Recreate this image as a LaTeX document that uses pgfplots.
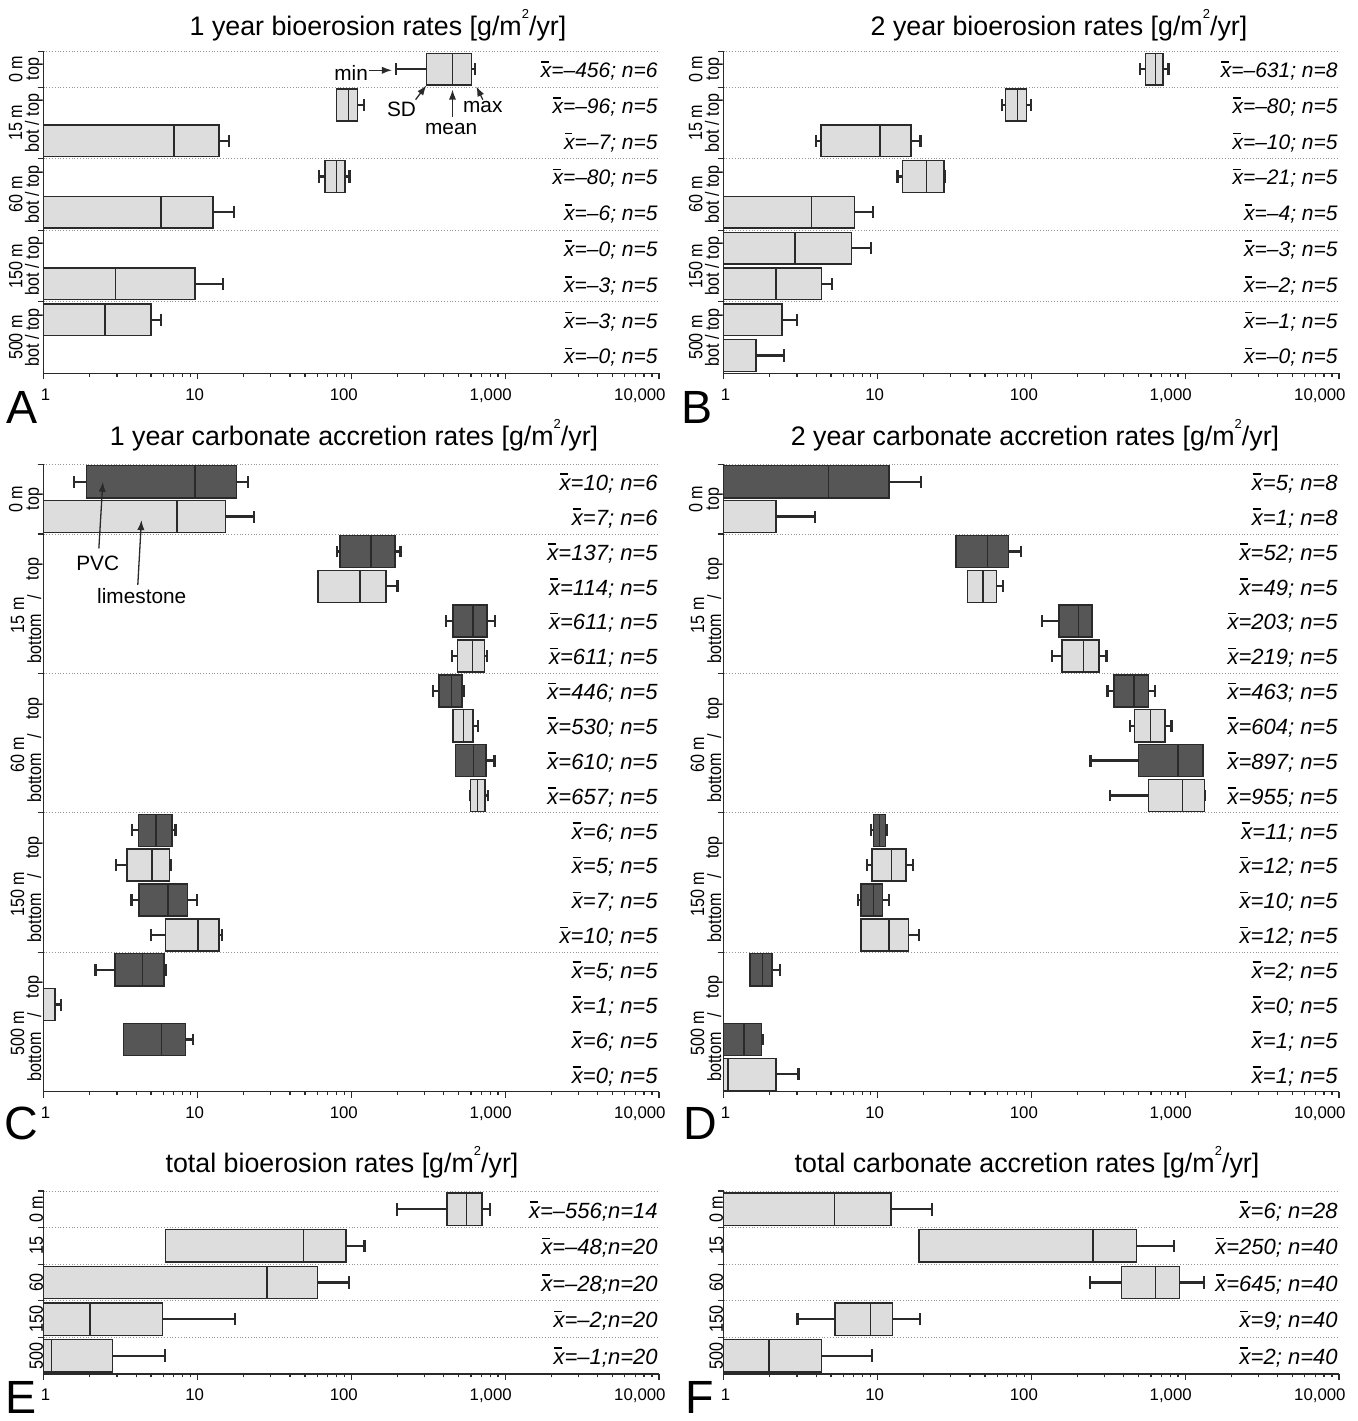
\documentclass[border=0pt]{standalone}
\usepackage{fontspec}
\setmainfont{Liberation Sans}
\newfontfamily\condfont{Liberation Sans}[FakeStretch=0.84]
\usepackage{pgfplots}
\pgfplotsset{compat=1.18}
\usetikzlibrary{arrows.meta}
\definecolor{lightbox}{RGB}{221,221,221}
\definecolor{darkbox}{RGB}{86,86,86}
\definecolor{edgec}{RGB}{42,42,42}
\definecolor{gridc}{RGB}{150,150,150}
\newcommand\xb{\rlap{\kern0.03em\raisebox{0.7em}{\rule{0.36em}{0.075em}}}x}
\newcommand\sq{\raisebox{0.62em}{\fontsize{6.5}{7}\selectfont 2}}
\def\myBH{0.4425}\def\myWH{0.17}
% row, fill colour, min, box-left (mean-SD), mean, box-right (mean+SD), max  [raw values, log axis]
\newcommand\bx[7]{%
 \pgfmathsetmacro\myXa{log10(#3)}\pgfmathsetmacro\myXb{log10(#4)}\pgfmathsetmacro\myXc{log10(#5)}%
 \pgfmathsetmacro\myXd{log10(#6)}\pgfmathsetmacro\myXe{log10(#7)}%
 \pgfmathsetmacro\myYa{-#1-\myBH}\pgfmathsetmacro\myYb{-#1+\myBH}%
 \pgfmathsetmacro\myWa{-#1-\myWH}\pgfmathsetmacro\myWb{-#1+\myWH}%
 \edef\myTmp{\noexpand\addplot[fill=#2, draw=edgec, line width=0.75pt] coordinates {(\myXb,\myYa) (\myXd,\myYa) (\myXd,\myYb) (\myXb,\myYb)} --cycle;%
   \noexpand\addplot[draw=edgec, line width=0.75pt] coordinates {(\myXc,\myYa) (\myXc,\myYb)};}\myTmp
 \pgfmathparse{\myXb-\myXa}%
 \ifdim\pgfmathresult pt>0.0001pt
   \edef\myTmp{\noexpand\addplot[draw=edgec, line width=1.1pt] coordinates {(\myXa,-#1) (\myXb,-#1)};\noexpand\addplot[draw=edgec, line width=1.1pt] coordinates {(\myXa,\myWa) (\myXa,\myWb)};}\myTmp
 \fi
 \pgfmathparse{\myXe-\myXd}%
 \ifdim\pgfmathresult pt>0.0001pt
   \edef\myTmp{\noexpand\addplot[draw=edgec, line width=1.1pt] coordinates {(\myXd,-#1) (\myXe,-#1)};\noexpand\addplot[draw=edgec, line width=1.1pt] coordinates {(\myXe,\myWa) (\myXe,\myWb)};}\myTmp
 \fi}
\newcommand\ann[2]{\node[anchor=east, inner sep=0pt, xshift=-0.5pt, yshift=-0.8pt, font=\fontsize{10.5}{12}\selectfont\itshape] at (axis cs:4,-#1) {\xb=#2};}
\newcommand\annb[2]{\node[anchor=east, inner sep=0pt, xshift=-0.5pt, yshift=-0.8pt, font=\fontsize{11}{12}\selectfont\itshape] at (axis cs:4,-#1) {\xb=#2};}
\newcommand\glab[2]{\node[rotate=90, align=center, inner sep=0pt, font=\condfont\fontsize{9.6}{8.35}\selectfont] at ([xshift=-8.8pt]axis cs:0,-#1) {#2};}
\newcommand\lab[3]{\node[rotate=90, align=center, inner sep=0pt, font=\condfont\fontsize{9.6}{8.35}\selectfont] at ([xshift=#1]axis cs:0,-#2) {#3};}
\newcommand\clabs[5]{%
  \lab{-13pt}{#2}{#1}\lab{-4.6pt}{#3}{top}\lab{-4.6pt}{#4}{/}\lab{-4.6pt}{#5}{bottom}}
\newcommand\arr[2]{\draw[-{Latex[length=5pt,width=3.6pt]}, line width=0.65pt, edgec] (axis cs:#1) -- (axis cs:#2);}
\newcommand\txt[2]{\node[inner sep=0pt, font=\fontsize{10.4}{12}\selectfont] at (axis cs:#1) {#2};}
\newcommand\beginpanel[1]{\begin{axis}[scale only axis, width=307.75pt, anchor=south west,
    xmin=0, xmax=4,
    xtick={0,1,2,3,4},
    xticklabels={1,10,100,{1,000},{10,000}},
    minor xtick={0.30103,0.47712,0.60206,0.69897,0.77815,0.84510,0.90309,0.95424,
                 1.30103,1.47712,1.60206,1.69897,1.77815,1.84510,1.90309,1.95424,
                 2.30103,2.47712,2.60206,2.69897,2.77815,2.84510,2.90309,2.95424,
                 3.30103,3.47712,3.60206,3.69897,3.77815,3.84510,3.90309,3.95424},
    xticklabel style={anchor=north east, xshift=3.5pt, yshift=-4.4pt, inner sep=0pt, font=\fontsize{8.4}{9}\selectfont},
    yticklabels={},
    axis x line*=bottom, axis y line*=left,
    tick align=outside, major tick length=3pt, minor tick length=1.7pt,
    ymajorgrids, major grid style={densely dotted, gridc, line width=0.45pt},
    tick style={edgec, line width=0.6pt},
    axis line style={edgec, line width=0.7pt},
    clip=false, #1]}
\begin{document}
\begin{tikzpicture}
\begin{scope}[x=0.5pt,y=-0.5pt]
\path[use as bounding box] (0,0) rectangle (1358,1421);
\end{scope}

% ---------------- A ----------------
\def\myBH{0.4425}
\beginpanel{at={(21.75pt,-186.65pt)}, height=161pt, ymin=-9.5, ymax=-0.5, ytick={-7.5,-5.5,-3.5,-1.5,-0.5}}
\bx{1}{lightbox}{196}{308}{456}{604}{637}
\bx{2}{lightbox}{80.2}{80.2}{96}{109.5}{120.7}
\bx{3}{lightbox}{1}{1}{7.07}{13.8}{16.0}
\bx{4}{lightbox}{61.9}{67.3}{80.2}{91.4}{97.5}
\bx{5}{lightbox}{1}{1}{5.82}{12.6}{17.3}
\bx{7}{lightbox}{1}{1}{2.93}{9.65}{14.6}
\bx{8}{lightbox}{1}{1}{2.51}{4.99}{5.82}
\ann{1}{–456; n=6}\ann{2}{–96; n=5}\ann{3}{–7; n=5}\ann{4}{–80; n=5}\ann{5}{–6; n=5}
\ann{6}{–0; n=5}\ann{7}{–3; n=5}\ann{8}{–3; n=5}\ann{9}{–0; n=5}
\glab{1}{0 m\\top}\glab{2.5}{15 m\\bot / top}\glab{4.5}{60 m\\bot / top}
\glab{6.5}{150 m\\bot / top}\glab{8.5}{500 m\\bot / top}
\arr{2.1173,-1.03}{2.2648,-1.03}
\node[anchor=east, inner sep=0pt, font=\fontsize{10.4}{12}\selectfont] at (axis cs:2.1106,-1.106) {min};
\arr{2.4183,-1.85}{2.4886,-1.45}
\txt{2.3263,-2.13}{SD}
\arr{2.6580,-2.33}{2.6580,-1.57}
\txt{2.6493,-2.66}{mean}
\arr{2.8549,-1.85}{2.8129,-1.48}
\txt{2.8549,-2.07}{max}
\end{axis}

% ---------------- B ----------------
\beginpanel{at={(361.75pt,-186.65pt)}, height=161pt, ymin=-9.5, ymax=-0.5, ytick={-7.5,-5.5,-3.5,-1.5,-0.5}}
\bx{1}{lightbox}{511}{553}{640}{716}{779}
\bx{2}{lightbox}{64.4}{67.8}{81.3}{93.1}{99.4}
\bx{3}{lightbox}{3.97}{4.29}{10.4}{16.6}{19.05}
\bx{4}{lightbox}{13.5}{14.6}{20.9}{27.2}{27.6}
\bx{5}{lightbox}{1}{1}{3.72}{7.12}{9.34}
\bx{6}{lightbox}{1}{1}{2.91}{6.8}{9.1}
\bx{7}{lightbox}{1}{1}{2.2}{4.35}{5.05}
\bx{8}{lightbox}{1}{1}{1}{2.4}{3.0}
\bx{9}{lightbox}{1}{1}{1}{1.63}{2.48}
\ann{1}{–631; n=8}\ann{2}{–80; n=5}\ann{3}{–10; n=5}\ann{4}{–21; n=5}\ann{5}{–4; n=5}
\ann{6}{–3; n=5}\ann{7}{–2; n=5}\ann{8}{–1; n=5}\ann{9}{–0; n=5}
\glab{1}{0 m\\top}\glab{2.5}{15 m\\bot / top}\glab{4.5}{60 m\\bot / top}
\glab{6.5}{150 m\\bot / top}\glab{8.5}{500 m\\bot / top}
\end{axis}

% ---------------- C ----------------
\def\myBH{0.46}
\beginpanel{at={(21.75pt,-545.85pt)}, height=313.7pt, ymin=-18.5, ymax=-0.5, ytick={-14.5,-10.5,-6.5,-2.5,-0.5}}
\bx{1}{darkbox}{1.57}{1.91}{9.65}{18.0}{21.4}
\bx{2}{lightbox}{1}{1}{7.35}{15.2}{23.4}
\bx{3}{darkbox}{80.7}{84.5}{134.6}{192}{209}
\bx{4}{lightbox}{60.7}{60.7}{113.8}{168}{200}
\bx{5}{darkbox}{413}{458}{617}{764}{859}
\bx{6}{lightbox}{449}{492}{613}{735}{764}
\bx{7}{darkbox}{338}{372}{449}{525}{542}
\bx{8}{lightbox}{458}{458}{535}{617}{667}
\bx{9}{darkbox}{476}{476}{621}{754}{853}
\bx{10}{lightbox}{590}{597}{662}{740}{774}
\bx{11}{darkbox}{3.75}{4.13}{5.39}{6.85}{7.21}
\bx{12}{lightbox}{2.97}{3.49}{5.08}{6.59}{6.76}
\bx{13}{darkbox}{3.73}{4.19}{6.46}{8.64}{9.97}
\bx{14}{lightbox}{4.99}{6.21}{10.1}{13.8}{14.5}
\bx{15}{darkbox}{2.18}{2.91}{4.41}{6.05}{6.25}
\bx{16}{lightbox}{1}{1}{1}{1.19}{1.30}
\bx{17}{darkbox}{3.31}{3.31}{5.86}{8.37}{9.34}
\annb{1}{10; n=6}\annb{2}{7; n=6}\annb{3}{137; n=5}\annb{4}{114; n=5}\annb{5}{611; n=5}
\annb{6}{611; n=5}\annb{7}{446; n=5}\annb{8}{530; n=5}\annb{9}{610; n=5}\annb{10}{657; n=5}
\annb{11}{6; n=5}\annb{12}{5; n=5}\annb{13}{7; n=5}\annb{14}{10; n=5}\annb{15}{5; n=5}
\annb{16}{1; n=5}\annb{17}{6; n=5}\annb{18}{0; n=5}
\glab{1.5}{0 m\\top}
\clabs{15 m}{4.83}{3.5}{4.31}{5.5}
\clabs{60 m}{8.83}{7.5}{8.31}{9.5}
\clabs{150 m}{12.83}{11.5}{12.31}{13.5}
\clabs{500 m}{16.83}{15.5}{16.31}{17.5}
\txt{0.3522,-3.34}{PVC}
\arr{0.3598,-2.91}{0.3856,-1.0}
\txt{0.6385,-4.27}{limestone}
\arr{0.6128,-3.96}{0.6365,-2.1}
\end{axis}

% ---------------- D ----------------
\beginpanel{at={(361.75pt,-545.85pt)}, height=313.7pt, ymin=-18.5, ymax=-0.5, ytick={-14.5,-10.5,-6.5,-2.5,-0.5}}
\bx{1}{darkbox}{1}{1}{4.82}{11.9}{19.3}
\bx{2}{lightbox}{1}{1}{1}{2.2}{3.95}
\bx{3}{darkbox}{32.4}{32.4}{52}{71}{86.1}
\bx{4}{lightbox}{38.4}{38.4}{48.7}{59.6}{65.2}
\bx{5}{darkbox}{117.6}{151}{203}{249}{249}
\bx{6}{lightbox}{135.6}{158}{219}{275}{308}
\bx{7}{darkbox}{313}{344}{464}{578}{637}
\bx{8}{lightbox}{440}{470}{597}{740}{815}
\bx{9}{darkbox}{243}{499}{899}{1309}{1309}
\bx{10}{lightbox}{323}{578}{959}{1334}{1352}
\bx{11}{darkbox}{9.1}{9.46}{10.3}{11.3}{11.5}
\bx{12}{lightbox}{8.6}{9.2}{12.4}{15.3}{17.1}
\bx{13}{darkbox}{7.45}{7.8}{9.46}{10.8}{11.9}
\bx{14}{lightbox}{7.8}{7.8}{11.9}{15.9}{18.6}
\bx{15}{darkbox}{1.49}{1.49}{1.79}{2.07}{2.34}
\bx{17}{darkbox}{1}{1}{1.36}{1.77}{1.79}
\bx{18}{lightbox}{1}{1}{1.07}{2.2}{3.07}
\annb{1}{5; n=8}\annb{2}{1; n=8}\annb{3}{52; n=5}\annb{4}{49; n=5}\annb{5}{203; n=5}
\annb{6}{219; n=5}\annb{7}{463; n=5}\annb{8}{604; n=5}\annb{9}{897; n=5}\annb{10}{955; n=5}
\annb{11}{11; n=5}\annb{12}{12; n=5}\annb{13}{10; n=5}\annb{14}{12; n=5}\annb{15}{2; n=5}
\annb{16}{0; n=5}\annb{17}{1; n=5}\annb{18}{1; n=5}
\glab{1.5}{0 m\\top}
\clabs{15 m}{4.83}{3.5}{4.31}{5.5}
\clabs{60 m}{8.83}{7.5}{8.31}{9.5}
\clabs{150 m}{12.83}{11.5}{12.31}{13.5}
\clabs{500 m}{16.83}{15.5}{16.31}{17.5}
\end{axis}

% ---------------- E ----------------
\def\myBH{0.4425}
\beginpanel{at={(21.75pt,-687pt)}, height=91.5pt, ymin=-5.5, ymax=-0.5, ytick={-4.5,-3.5,-2.5,-1.5,-0.5}}
\bx{1}{lightbox}{199}{419}{560}{707}{795}
\bx{2}{lightbox}{6.21}{6.21}{49}{92.5}{122}
\bx{3}{lightbox}{1}{1}{28.3}{60.4}{96.2}
\bx{4}{lightbox}{1}{1}{2.01}{5.94}{17.6}
\bx{5}{lightbox}{1}{1}{1.13}{2.8}{6.13}
\annb{1}{–556;n=14}\annb{2}{–48;n=20}\annb{3}{–28;n=20}\annb{4}{–2;n=20}\annb{5}{–1;n=20}
\lab{-3.6pt}{1}{0 m}\lab{-3.6pt}{2}{15}\lab{-3.6pt}{3}{60}\lab{-3.6pt}{4}{150}\lab{-3.6pt}{5}{500}
\end{axis}

% ---------------- F ----------------
\beginpanel{at={(361.75pt,-687pt)}, height=91.5pt, ymin=-5.5, ymax=-0.5, ytick={-4.5,-3.5,-2.5,-1.5,-0.5}}
\bx{1}{lightbox}{1}{1}{5.28}{12.3}{22.7}
\bx{2}{lightbox}{18.6}{18.6}{252}{483}{848}
\bx{3}{lightbox}{240}{385}{641}{916}{1334}
\bx{4}{lightbox}{3.03}{5.32}{9.04}{12.5}{18.9}
\bx{5}{lightbox}{1}{1}{1.97}{4.35}{9.22}
\annb{1}{6; n=28}\annb{2}{250; n=40}\annb{3}{645; n=40}\annb{4}{9; n=40}\annb{5}{2; n=40}
\lab{-3.6pt}{1}{0 m}\lab{-3.6pt}{2}{15}\lab{-3.6pt}{3}{60}\lab{-3.6pt}{4}{150}\lab{-3.6pt}{5}{500}
\end{axis}

\begin{scope}[x=0.5pt,y=-0.5pt]
\tikzset{ttl/.style={anchor=base, inner sep=0pt, font=\fontsize{13.4}{15}\selectfont},
         big/.style={anchor=base west, inner sep=0pt, font=\fontsize{23.3}{25}\selectfont}}
\node[ttl] at (378,35) {1 year bioerosion rates [g/m\sq/yr]};
\node[ttl] at (1059,35) {2 year bioerosion rates [g/m\sq/yr]};
\node[ttl] at (354,445) {1 year carbonate accretion rates [g/m\sq/yr]};
\node[ttl] at (1035,445) {2 year carbonate accretion rates [g/m\sq/yr]};
\node[ttl] at (342,1172) {total bioerosion rates [g/m\sq/yr]};
\node[ttl] at (1027,1172) {total carbonate accretion rates [g/m\sq/yr]};
\node[big] at (6.5,423.3) {A};
\node[big] at (681,423.3) {B};
\node[big] at (4.3,1139) {C};
\node[big] at (683,1139) {D};
\node[big] at (5.2,1413) {E};
\node[big] at (685,1413) {F};
\end{scope}
\end{tikzpicture}
\end{document}
